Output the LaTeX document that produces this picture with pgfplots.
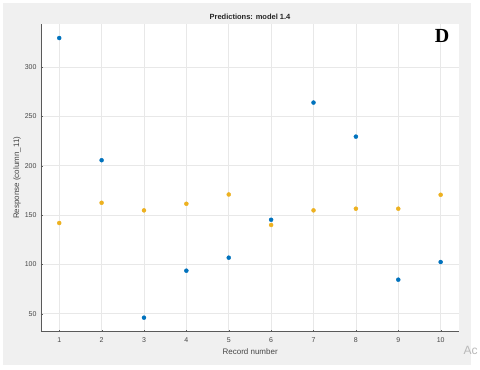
\documentclass[border=0pt]{standalone}
\usepackage{fontspec}
\setmainfont{Liberation Sans}
\newfontfamily\serifbold{Liberation Serif}
\usepackage{pgfplots}
\pgfplotsset{compat=1.18}

\definecolor{mblue}{RGB}{0,114,189}
\definecolor{morange}{RGB}{237,177,32}
\definecolor{panel}{RGB}{240,240,240}
\definecolor{axgray}{RGB}{90,90,90}
\definecolor{txtgray}{RGB}{70,70,70}

\begin{document}
\begin{tikzpicture}[x=1pt,y=1pt]
% page = 480 x 370, axis box lower-left corner at (41, 38.3) of the page
\begin{scope}[shift={(-41,-38.3)}]
\useasboundingbox (0,0) rectangle (480,370);
\fill[white] (0,0) rectangle (480,370);
\fill[panel] (3,5) rectangle (471,367);
\begin{scope}
\clip (0,0) rectangle (480,370);
\node[font=\fontsize{12}{12}\selectfont, text=gray!55, anchor=west] at (460,20) {Ac};
\end{scope}
\end{scope}

\begin{axis}[
    anchor=origin, at={(0,0)},
    scale only axis,
    width=418.3pt, height=307.7pt,
    xmin=0.57, xmax=10.44,
    ymin=31.8, ymax=343.5,
    xtick={1,...,10},
    ytick={50,100,150,200,250,300},
    axis x line*=bottom,
    axis y line*=left,
    axis line style={axgray, line width=0.8pt, -},
    axis background/.style={fill=white},
    grid=major,
    major grid style={gray!18, line width=0.5pt},
    tick align=inside,
    major tick length=2pt,
    tick style={axgray},
    ticklabel style={font=\fontsize{7}{8}\selectfont, text=txtgray},
    /pgf/number format/assume math mode=true,
    yticklabel style={xshift=-1pt},
    xticklabel style={yshift=-2pt},
    xlabel={Record number},
    xlabel style={font=\fontsize{8}{9}\selectfont, text=txtgray,
                  at={(axis description cs:0.5,-0.065)}, anchor=center},
    ylabel={Response (column\_11)},
    ylabel style={font=\fontsize{8}{9}\selectfont, text=txtgray,
                  at={(axis description cs:-0.0574,0.5)}, anchor=center},
    clip=false,
]
% observed
\addplot[only marks, mark=*, mark size=2pt, mblue, mark options={draw=mblue, fill=mblue}]
  coordinates {(1,329.3) (2,205.5) (3,46.0) (4,93.6) (5,106.8)
               (6,145.2) (7,263.9) (8,229.4) (9,84.5) (10,102.4)};
% predicted
\addplot[only marks, mark=*, mark size=2pt, morange, mark options={draw=morange, fill=morange}]
  coordinates {(1,141.9) (2,162.4) (3,154.7) (4,161.4) (5,170.8)
               (6,139.9) (7,154.7) (8,156.4) (9,156.4) (10,170.5)};
\end{axis}

% title and panel letter
\node[font=\fontsize{7.5}{8}\selectfont\bfseries, text=black!85] at (250-41,370-17.3-38.3) {Predictions: model 1.4};
\node[font=\serifbold\bfseries\fontsize{20}{20}\selectfont] at (442-41,334.5-38.3) {D};
\end{tikzpicture}
\end{document}
